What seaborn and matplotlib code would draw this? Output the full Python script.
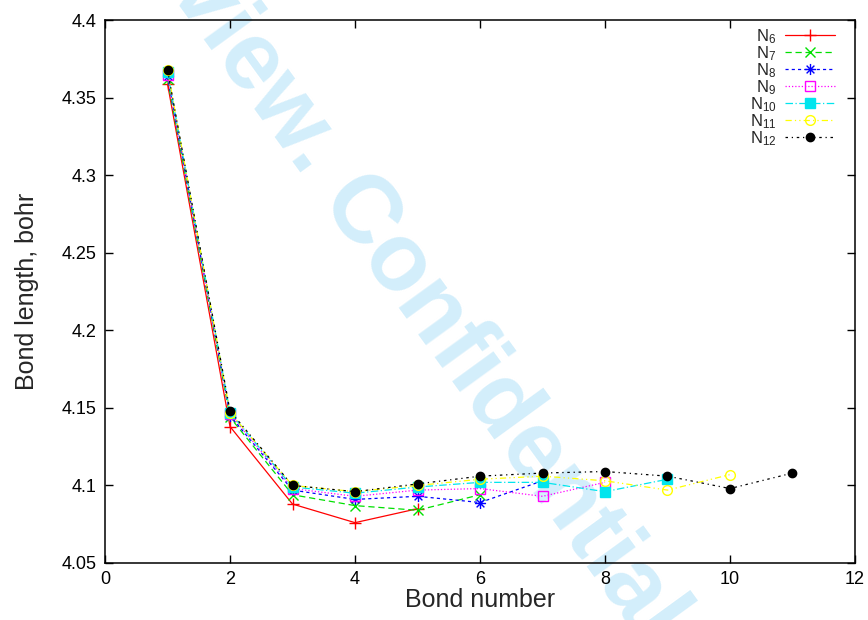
import matplotlib
matplotlib.use("Agg")
import matplotlib.pyplot as plt
from matplotlib.path import Path
import seaborn as sns
import pandas as pd

# ---- data ----
labels = ["N$_{6}$", "N$_{7}$", "N$_{8}$", "N$_{9}$", "N$_{10}$", "N$_{11}$", "N$_{12}$"]
n6 = [4.359, 4.138, 4.088, 4.076, 4.085]
n7 = [4.362, 4.144, 4.094, 4.087, 4.084, 4.094]
n8 = [4.364, 4.145, 4.097, 4.091, 4.093, 4.089, 4.103]
n9 = [4.365, 4.146, 4.098, 4.093, 4.097, 4.098, 4.093, 4.102]
n10 = [4.367, 4.147, 4.099, 4.095, 4.099, 4.102, 4.102, 4.096, 4.104]
n11 = [4.368, 4.147, 4.100, 4.096, 4.100, 4.104, 4.106, 4.103, 4.097, 4.107]
n12 = [4.368, 4.148, 4.100, 4.096, 4.101, 4.106, 4.108, 4.109, 4.106, 4.098, 4.108]
series = [n6, n7, n8, n9, n10, n11, n12]
x_ticks = [0, 2, 4, 6, 8, 10, 12]
y_ticks = [4.05, 4.1, 4.15, 4.2, 4.25, 4.3, 4.35, 4.4]
y_tick_labels = ["4.05", "4.1", "4.15", "4.2", "4.25", "4.3", "4.35", "4.4"]

sns.set_style("ticks")
plt.rcParams['font.family'] = ['Liberation Sans', 'DejaVu Sans']
plt.rcParams['mathtext.fontset'] = 'custom'
plt.rcParams['mathtext.rm'] = 'Liberation Sans'
plt.rcParams['mathtext.it'] = 'Liberation Sans'

# asterisk marker (plus + cross)
star_path = Path(
    [(-1, 0), (1, 0), (0, -1), (0, 1), (-0.7, -0.7), (0.7, 0.7), (-0.7, 0.7), (0.7, -0.7)],
    [Path.MOVETO, Path.LINETO] * 4,
)

styles = [
    dict(color="#ff0000", marker="+", ls="-", mfc="#ff0000", ms=8),
    dict(color="#00e000", marker="x", ls=(0, (5, 3)), mfc="#00e000", ms=7),
    dict(color="#0000ff", marker=star_path, ls=(0, (2.5, 2.5)), mfc="none", ms=8),
    dict(color="#ff00ff", marker="s", ls=(0, (1, 1.6)), mfc="none", ms=7),
    dict(color="#00e5ee", marker="s", ls=(0, (6, 2, 1, 2)), mfc="#00e5ee", ms=6.5),
    dict(color="#ffff00", marker="o", ls=(0, (5, 2.5, 1, 2.5, 1, 2.5)), mfc="none", ms=7),
    dict(color="#000000", marker="o", ls=(0, (2, 3, 1, 3)), mfc="#000000", ms=6),
]

fig = plt.figure(figsize=(8.68, 6.2), dpi=100, facecolor="white")
ax = fig.add_axes([0.121, 0.092, 0.864, 0.875])
ax.set_facecolor("white")

# watermark
ax.text(0.439, 0.611, "Preview. Confidential", transform=fig.transFigure,
        rotation=-54, ha="center", va="center", fontsize=69, fontweight="bold",
        color="#d3eefb", zorder=0.5, clip_on=False)

for lab, vals, st in zip(labels, series, styles):
    df = pd.DataFrame({"bond": list(range(1, len(vals) + 1)), "length": vals})
    sns.lineplot(data=df, x="bond", y="length", ax=ax, estimator=None, sort=False,
                 color=st["color"], marker=st["marker"], linestyle=st["ls"],
                 markerfacecolor=st["mfc"], markeredgecolor=st["color"],
                 markersize=st["ms"], markeredgewidth=1.0, linewidth=0.9,
                 label=lab, zorder=3)

ax.set_xlim(0, 12)
ax.set_ylim(4.05, 4.4)
ax.set_xticks(x_ticks)
ax.set_yticks(y_ticks)
ax.set_yticklabels(y_tick_labels)
ax.tick_params(direction="in", length=6, width=1, top=True, right=True,
               labelsize=13, pad=6, colors="black")
for sp in ax.spines.values():
    sp.set_visible(True)
    sp.set_linewidth(1.1)
    sp.set_color("black")

ax.set_xlabel("Bond number", fontsize=18, labelpad=0)
ax.set_ylabel("Bond length, bohr", fontsize=18, labelpad=16)

leg = ax.legend(loc="upper right", bbox_to_anchor=(0.982, 1.0), frameon=False,
                markerfirst=False, handlelength=3.0, fontsize=12,
                labelspacing=-0.1, borderaxespad=0.0, handletextpad=0.5)

fig.savefig("out.png", dpi=100, facecolor="white")
